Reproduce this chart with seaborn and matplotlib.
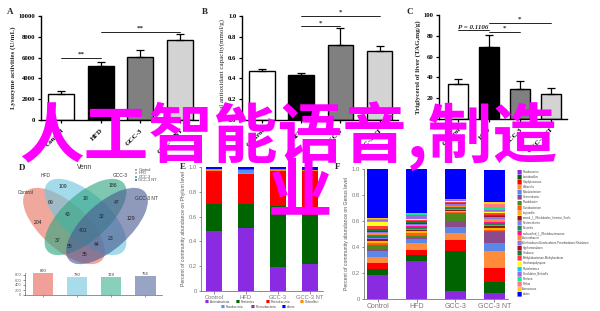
import numpy as np
import pandas as pd
import matplotlib
matplotlib.use("Agg")
import matplotlib.pyplot as plt
import seaborn as sns
from matplotlib.patches import Ellipse

sns.set_theme(style="ticks")
plt.rcParams["font.family"] = ["Liberation Serif", "DejaVu Sans"]

# ---------------- data ----------------
groups = ["Control", "HFD", "GCC-3", "GCC-3 NT"]
bar_colors = ["#ffffff", "#000000", "#808080", "#d3d3d3"]

lyso_mean = [2500, 5150, 6100, 7650]
lyso_err = [250, 450, 650, 650]
tac_mean = [0.47, 0.43, 0.72, 0.665]
tac_err = [0.02, 0.02, 0.16, 0.05]
tag_mean = [34, 69, 29, 24]
tag_err = [4, 12, 7.5, 5.5]

sig_A = [(0, 1, 6000, "**"), (1, 3, 8460, "**")]
sig_B = [(1, 3, 1.0, "*"), (1, 2, 0.90, "*")]
sig_C = [(0, 1, 85.5, "P = 0.1106"), (1, 2, 84, "*"), (1, 3, 92.5, "*")]

venn_sets = ["Control", "HFD", "GCC-3", "GCC-3 NT"]
venn_colors = ["#E8735F", "#6CC6DE", "#2FA582", "#4A5A92"]
venn_bar_colors = ["#F0A098", "#A8DCEA", "#88D0BC", "#98A4C4"]
venn_counts = [204, 109, 186, 129, 69, 18, 47, 43, 32, 401, 37, 23, 55, 44, 35]
venn_totals = [870, 730, 729, 766]

phyla = ["Actinobacteria", "Firmicutes", "Proteobacteria", "Chloroflexi",
         "Fusobacteria", "Patescibacteria", "others"]
phylum_colors = ["#8A2BE2", "#006400", "#FF0000", "#FF8C00", "#4F94FF", "#8B3A8B", "#0000FF"]
phylum_vals = [
    [0.480, 0.510, 0.190, 0.215],
    [0.225, 0.190, 0.495, 0.400],
    [0.265, 0.245, 0.283, 0.351],
    [0.010, 0.008, 0.010, 0.010],
    [0.002, 0.020, 0.002, 0.001],
    [0.002, 0.007, 0.002, 0.001],
    [0.016, 0.020, 0.018, 0.022],
]

genera = ["Rhodococcus", "Lactobacillus", "Staphylococcus", "Weissella", "Mycobacterium",
          "Gemmobacter", "Rhodobacter", "Curtobacterium", "Legionella",
          "norank_f__Rhodobiales_Incertae_Sedis", "Nesterenkonia", "Nocardia",
          "unclassified_f__Rhodobacteraceae", "Acinetobacter",
          "Allorhizobium-Neorhizobium-Pararhizobium-Rhizobium", "Hyphomicrobium",
          "Sinobaca", "Methylobacterium-Methylorubrum", "Saccharopolyspora",
          "Rheinheimera", "Candidatus_Berkiella", "Pantoea", "Rothia", "Aerococcus", "others"]
genus_colors = ["#8A2BE2", "#006400", "#FF0000", "#FF8C3A", "#5A87E8", "#8B4A8B", "#4E8A1A",
                "#FF5A1A", "#FFB300", "#8B1A1A", "#8A7AFF", "#1A8A4A", "#FF1493", "#FF8A3A",
                "#8A7AE6", "#A0142A", "#1A7A3A", "#FF3A3A", "#FFFF1A", "#1AC8FF", "#9A6AE6",
                "#1AE68A", "#FF7A7A", "#FFC81A", "#0000FF"]
# rows: genera, columns: Control, HFD, GCC-3, GCC-3 NT
genus_vals = [
    [0.187, 0.290, 0.060, 0.050],
    [0.043, 0.046, 0.307, 0.084],
    [0.046, 0.043, 0.090, 0.102],
    [0.046, 0.051, 0.051, 0.136],
    [0.050, 0.033, 0.043, 0.056],
    [0.015, 0.010, 0.051, 0.084],
    [0.030, 0.012, 0.059, 0.012],
    [0.012, 0.020, 0.008, 0.008],
    [0.020, 0.015, 0.008, 0.018],
    [0.010, 0.012, 0.008, 0.010],
    [0.012, 0.008, 0.008, 0.008],
    [0.015, 0.012, 0.008, 0.015],
    [0.010, 0.008, 0.010, 0.008],
    [0.010, 0.010, 0.008, 0.028],
    [0.012, 0.010, 0.008, 0.010],
    [0.008, 0.008, 0.006, 0.008],
    [0.015, 0.012, 0.006, 0.010],
    [0.020, 0.008, 0.008, 0.015],
    [0.030, 0.005, 0.004, 0.006],
    [0.008, 0.005, 0.004, 0.010],
    [0.008, 0.030, 0.004, 0.006],
    [0.005, 0.005, 0.004, 0.022],
    [0.005, 0.005, 0.004, 0.022],
    [0.005, 0.003, 0.004, 0.022],
    [0.386, 0.339, 0.240, 0.240],
]

W, H = 600, 311
fig = plt.figure(figsize=(6, 3.11), dpi=100)
fig.patch.set_facecolor("white")


def rect(l, t, r, b):
    return [l / W, 1 - b / H, (r - l) / W, (b - t) / H]


def ftext(x, y, s, **kw):
    return fig.text(x / W, 1 - y / H, s, **kw)


def top_panel(box, means, errs, ymax, yticks, ylabels, ylabel, xlim, sigs, label_w="bold"):
    ax = fig.add_axes(rect(*box))
    df = pd.DataFrame({"group": groups, "value": means})
    sns.barplot(data=df, x="group", y="value", hue="group", palette=bar_colors,
                legend=False, edgecolor="black", linewidth=1.0, width=0.65,
                errorbar=None, ax=ax)
    ax.errorbar(np.arange(4), means, yerr=[np.zeros(4), errs], fmt="none",
                ecolor="black", elinewidth=0.9, capsize=3, capthick=0.9, zorder=1)
    ax.set_ylim(0, ymax)
    ax.set_xlim(*xlim)
    ax.set_yticks(yticks)
    ax.set_yticklabels(ylabels, fontsize=4.8, fontweight="bold")
    ax.set_xticks(range(4))
    ax.set_xticklabels(groups, rotation=45, ha="right", rotation_mode="anchor",
                       fontsize=5, fontweight="bold")
    ax.tick_params(axis="x", pad=3)
    ax.set_xlabel("")
    ax.set_ylabel(ylabel, fontsize=5, fontweight=label_w, labelpad=2)
    for s in ["top", "right"]:
        ax.spines[s].set_visible(False)
    for s in ["left", "bottom"]:
        ax.spines[s].set_linewidth(1.0)
        ax.spines[s].set_color("black")
    ax.tick_params(axis="both", length=2.5, width=0.9, colors="black")
    ax.tick_params(axis="y", pad=1.5)
    for x1, x2, y, s in sigs:
        ax.plot([x1, x2], [y, y], color="black", lw=0.6, clip_on=False)
        if s.startswith("P"):
            ax.text((x1 + x2) / 2, y, s, ha="center", va="bottom", fontsize=5,
                    fontweight="bold", fontstyle="italic")
        else:
            ax.text((x1 + x2) / 2, y + ymax * 0.01, s, ha="center", va="bottom",
                    fontsize=5, fontweight="bold")
    return ax


top_panel((41, 16, 198, 120), lyso_mean, lyso_err, 10000,
          [0, 2000, 4000, 6000, 8000, 10000], ["0", "2000", "4000", "6000", "8000", "10000"],
          "Lysozyme activities (U/mL)", (-0.5, 3.45), sig_A)
top_panel((242, 16, 398, 120), tac_mean, tac_err, 1.0,
          [0, 0.2, 0.4, 0.6, 0.8, 1.0], ["0.0", "0.2", "0.4", "0.6", "0.8", "1.0"],
          "Total antioxidant capacity(mmol/g)", (-0.51, 3.47), sig_B, label_w="normal")
top_panel((439, 15, 567, 119), tag_mean, tag_err, 100,
          [0, 20, 40, 60, 80, 100], ["0", "20", "40", "60", "80", "100"],
          "Triglycerol of liver (TAG,mg/g)", (-0.61, 3.52), sig_C)

for x, y, s in [(10, 12, "A"), (205, 12, "B"), (410, 12, "C"),
                (22, 168, "D"), (183, 167, "E"), (338, 167, "F")]:
    ftext(x, y, s, fontsize=6.5, fontweight="bold", ha="center", va="center",
          family=["Liberation Serif"])

# ---------------- D: Venn ----------------
sans = ["Liberation Sans", "DejaVu Sans"]
axv = fig.add_axes(rect(0, 163, 175, 268))
axv.set_xlim(0, 175)
axv.set_ylim(268, 163)
axv.axis("off")
ell_layout = [(64, 226, 42), (85.5, 217, 42), (85.5, 217, -42), (107, 226, -42)]
for (cx, cy, ang), col in zip(ell_layout, venn_colors):
    axv.add_patch(Ellipse((cx, cy), 102, 46, angle=ang, facecolor=col, alpha=0.62,
                          edgecolor="none"))
label_xy = [(38, 222), (63, 187), (113, 186), (131, 219), (51, 203), (86, 198), (117, 203),
            (68, 215), (102, 217), (83, 230), (58, 240), (111, 238), (70, 247), (97, 245),
            (85, 255)]
for (x, y), c in zip(label_xy, venn_counts):
    axv.text(x, y, str(c), fontsize=3.7, ha="center", va="center", color="#222222",
             family=sans)
for (x, y), s in zip([(26, 193), (46, 176), (120, 176), (146, 198)], venn_sets):
    axv.text(x, y, s, fontsize=3.5, ha="center", va="center", color="#333333", family=sans)
axv.text(85, 168, "Venn", fontsize=4.8, ha="center", va="center", color="#333333", family=sans)
for i, (s, col) in enumerate(zip(venn_sets, venn_colors)):
    y = 170 + i * 3.5
    axv.scatter([136], [y], s=2.5, marker="s", color=col, alpha=0.8, linewidths=0)
    axv.text(138.5, y, s, fontsize=2.8, ha="left", va="center", color="#444444", family=sans)

axvb = fig.add_axes(rect(25, 272.5, 162, 295))
dfv = pd.DataFrame({"set": venn_sets, "n": venn_totals})
sns.barplot(data=dfv, x="set", y="n", hue="set", palette=venn_bar_colors, legend=False,
            width=0.6, errorbar=None, ax=axvb, linewidth=0, saturation=1)
axvb.set_ylim(0, 900)
axvb.set_xlim(-0.53, 3.49)
axvb.set_yticks([0, 200, 400, 600, 800])
axvb.set_yticklabels(["0", "200", "400", "600", "800"], fontsize=3.0, family=sans, color="#444444")
axvb.set_xticks(range(4))
axvb.set_xticklabels([])
axvb.set_xlabel("")
axvb.set_ylabel("")
for i, v in enumerate(venn_totals):
    axvb.text(i, v, str(v), fontsize=3.0, ha="center", va="bottom", color="#333333", family=sans)
for s in ["top", "right"]:
    axvb.spines[s].set_visible(False)
for s in ["left", "bottom"]:
    axvb.spines[s].set_linewidth(0.5)
    axvb.spines[s].set_color("#666666")
axvb.tick_params(length=1.5, width=0.5, pad=1, colors="#666666")


# ---------------- E / F stacked ----------------
def stacked(box, taxa, colors, vals, shrink, xlim, ylabel, xfs):
    ax = fig.add_axes(rect(*box))
    rows = []
    for t, vs in zip(taxa, vals):
        for g, v in zip(groups, vs):
            rows.append((g, t, v))
    df = pd.DataFrame(rows, columns=["group", "taxon", "value"])
    sns.histplot(data=df, x="group", weights="value", hue="taxon", hue_order=taxa[::-1],
                 palette=colors[::-1], multiple="stack", discrete=True, shrink=shrink,
                 linewidth=0, alpha=1, legend=False, ax=ax)
    ax.set_ylim(0, 1)
    ax.set_xlim(*xlim)
    ax.set_yticks([0, 0.2, 0.4, 0.6, 0.8, 1.0])
    ax.set_yticklabels(["0", "0.2", "0.4", "0.6", "0.8", "1.0"], fontsize=4.2,
                       family=sans, color="#555555")
    ax.set_xticks(range(4))
    ax.set_xticklabels(groups, fontsize=xfs, family=sans, color="#333333")
    ax.set_xlabel("")
    ax.set_ylabel(ylabel, fontsize=3.7, family=sans, color="#555555", labelpad=2)
    for s in ["top", "right"]:
        ax.spines[s].set_visible(False)
    for s in ["left", "bottom"]:
        ax.spines[s].set_linewidth(0.6)
        ax.spines[s].set_color("#777777")
    ax.tick_params(length=1.8, width=0.6, pad=1, colors="#777777")
    return ax


stacked((201, 167, 323, 291), phyla, phylum_colors, phylum_vals, 0.5, (-0.41, 3.41),
        "Percent of community abundance on Phylum level", 4.2)
stacked((364, 169, 508, 299), genera, genus_colors, genus_vals, 0.54, (-0.35, 3.35),
        "Percent of community abundance on Genus level", 5.0)

# E legend
e_leg_xy = [(207, 302), (238, 302), (268, 302), (302, 302), (223, 307), (253, 307), (284, 307)]
for (x, y), s, c in zip(e_leg_xy, phyla, phylum_colors):
    ftext(x, y, "■", fontsize=3.0, color=c, ha="center", va="center", family=["DejaVu Sans"])
    ftext(x + 2.5, y, s, fontsize=2.2, color="#444444", ha="left", va="center", family=sans)

# F legend
for i, (s, c) in enumerate(zip(genera, genus_colors)):
    y = 172 + i * 5.08
    ftext(519, y, "■", fontsize=4.0, color=c, ha="center", va="center", family=["DejaVu Sans"])
    ftext(522.5, y, s, fontsize=2.0, color="#444444", ha="left", va="center", family=sans)

# ---------------- watermark ----------------
cjk = ["Noto Sans CJK SC", "DejaVu Sans"]
ftext(288, 136, "人工智能语音,制造", fontsize=46.5, color="#FF00FF", ha="center", va="center",
      family=cjk, fontweight="bold", zorder=50)
ftext(300, 192, "业", fontsize=46.5, color="#FF00FF", ha="center", va="center",
      family=cjk, fontweight="bold", zorder=50)

fig.savefig("out.png", dpi=100, facecolor="white")
